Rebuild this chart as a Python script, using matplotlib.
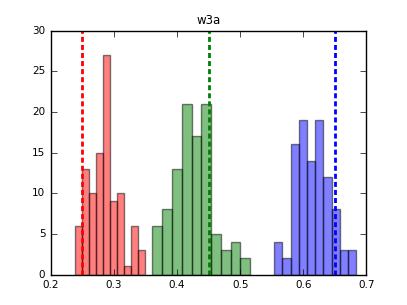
import numpy as np
import matplotlib
matplotlib.use('Agg')
import matplotlib.pyplot as plt

plt.style.use('classic')
plt.rcParams['font.size'] = 7.5

# counts per bin (10 bins each), bin range and the marker line for each group
red_counts = [6, 13, 10, 15, 27, 9, 10, 1, 6, 3]
red_range = (0.238, 0.349)
red_line = 0.25

green_counts = [6, 8, 13, 21, 17, 21, 5, 3, 4, 2]
green_range = (0.361, 0.516)
green_line = 0.45

blue_counts = [4, 2, 16, 19, 14, 19, 12, 8, 3, 3]
blue_range = (0.554, 0.684)
blue_line = 0.65

fig = plt.figure(figsize=(4.07, 3.05), dpi=100)
ax = fig.add_subplot(111)

for counts, rng, line, c in [(red_counts, red_range, red_line, 'r'),
                             (green_counts, green_range, green_line, 'g'),
                             (blue_counts, blue_range, blue_line, 'b')]:
    edges = np.linspace(rng[0], rng[1], len(counts) + 1)
    centers = (edges[:-1] + edges[1:]) / 2
    ax.hist(centers, bins=edges, weights=counts, color=c, alpha=0.5)
    ax.axvline(line, color=c, linestyle='--', dashes=(3.6, 2.2), linewidth=2)

ax.set_xlim(0.2, 0.7)
ax.set_ylim(0, 30)
ax.set_title('w3a', fontsize=8.5)

fig.savefig('out.png', dpi=100)
